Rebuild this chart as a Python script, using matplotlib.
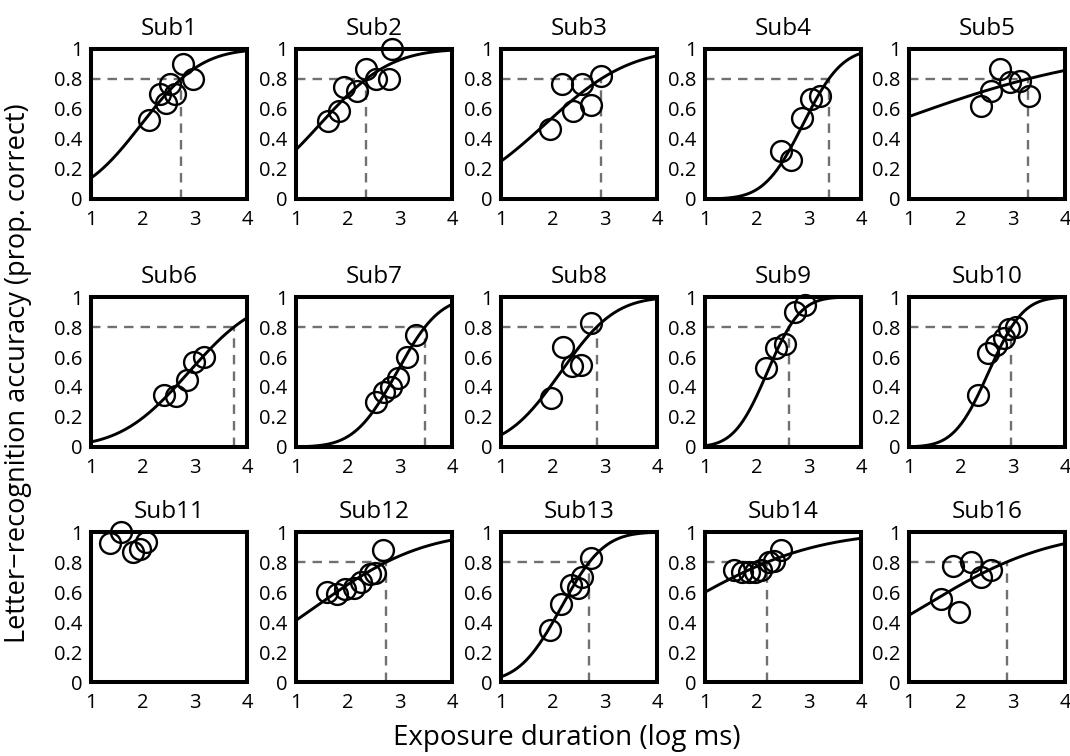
import math

import matplotlib

matplotlib.use("Agg")

import matplotlib.pyplot as plt  # noqa: E402
import numpy as np  # noqa: E402

plt.rcParams["font.family"] = ["Open Sans", "DejaVu Sans"]

W, H = 1070, 756
DPI = 100

# Per-subject data: exposure duration (log ms) and proportion correct.
names = ["Sub1", "Sub2", "Sub3", "Sub4", "Sub5",
         "Sub6", "Sub7", "Sub8", "Sub9", "Sub10",
         "Sub11", "Sub12", "Sub13", "Sub14", "Sub16"]

sub_x = [
    [2.11, 2.33, 2.45, 2.51, 2.62, 2.77, 2.96],
    [1.61, 1.82, 1.92, 2.17, 2.34, 2.53, 2.79, 2.85],
    [1.95, 2.18, 2.38, 2.55, 2.74, 2.93],
    [2.47, 2.66, 2.87, 3.04, 3.21],
    [2.39, 2.57, 2.75, 2.95, 3.13, 3.30],
    [2.41, 2.63, 2.85, 2.99, 3.17],
    [2.54, 2.69, 2.83, 2.96, 3.13, 3.31],
    [1.97, 2.19, 2.37, 2.54, 2.73],
    [2.18, 2.36, 2.53, 2.73, 2.92],
    [2.33, 2.52, 2.67, 2.82, 2.93, 3.05],
    [1.36, 1.58, 1.81, 1.94, 2.06],
    [1.59, 1.79, 1.95, 2.11, 2.25, 2.43, 2.51, 2.67],
    [1.95, 2.15, 2.34, 2.48, 2.55, 2.73],
    [1.56, 1.72, 1.85, 1.96, 2.07, 2.23, 2.33, 2.46],
    [1.61, 1.84, 1.96, 2.19, 2.38, 2.57],
]
sub_y = [
    [0.53, 0.70, 0.64, 0.77, 0.70, 0.90, 0.80],
    [0.52, 0.59, 0.75, 0.72, 0.87, 0.80, 0.80, 1.00],
    [0.47, 0.77, 0.59, 0.77, 0.63, 0.82],
    [0.32, 0.26, 0.54, 0.67, 0.69],
    [0.62, 0.72, 0.87, 0.78, 0.79, 0.69],
    [0.35, 0.34, 0.45, 0.57, 0.60],
    [0.30, 0.37, 0.40, 0.46, 0.60, 0.75],
    [0.33, 0.67, 0.54, 0.55, 0.83],
    [0.53, 0.66, 0.69, 0.90, 0.95],
    [0.35, 0.63, 0.68, 0.73, 0.79, 0.80],
    [0.93, 1.00, 0.87, 0.89, 0.935],
    [0.60, 0.59, 0.62, 0.63, 0.67, 0.72, 0.73, 0.88],
    [0.35, 0.52, 0.645, 0.63, 0.70, 0.83],
    [0.75, 0.735, 0.735, 0.735, 0.75, 0.80, 0.81, 0.88],
    [0.555, 0.775, 0.47, 0.80, 0.70, 0.75],
]

# Fitted psychometric function: 80%-correct threshold and spread (None = no fit).
thresholds = [2.73, 2.35, 2.92, 3.38, 3.28,
              3.75, 3.48, 2.84, 2.62, 2.97,
              None, 2.74, 2.70, 2.20, 2.88]
spreads = [0.90, 1.05, 1.27, 0.585, 3.18,
           1.03, 0.64, 0.82, 0.50, 0.52,
           None, 1.63, 0.64, 2.03, 1.92]

CRIT = 0.8
Z_CRIT = 0.8416  # normal quantile of 0.8

col_left = [91, 296, 501, 705, 909]
row_top = [49, 297, 532]
ax_w, ax_h = 156, 150


def norm_cdf(z):
    return np.array([0.5 * (1 + math.erf(v / math.sqrt(2))) for v in z])


fig = plt.figure(figsize=(W / DPI, H / DPI), dpi=DPI)

for i, name in enumerate(names):
    r, c = divmod(i, 5)
    left = col_left[c] / W
    bottom = (H - row_top[r] - ax_h) / H
    ax = fig.add_axes([left, bottom, ax_w / W, ax_h / H])

    thr, sd = thresholds[i], spreads[i]
    if thr is not None:
        ax.plot([1, thr], [CRIT, CRIT], color="#707070", lw=1.7, ls=(0, (4, 3)), zorder=1)
        ax.plot([thr, thr], [0, CRIT], color="#707070", lw=1.7, ls=(0, (4, 3)), zorder=1)
        mu = thr - Z_CRIT * sd
        xs = np.linspace(1, 4, 200)
        ax.plot(xs, norm_cdf((xs - mu) / sd), color="black", lw=2.1, zorder=2)

    ax.plot(sub_x[i], sub_y[i], "o", ms=15, mfc="none", mec="black", mew=1.7,
            clip_on=False, zorder=3)

    ax.set_xlim(1, 4)
    ax.set_ylim(0, 1)
    ax.set_xticks([1, 2, 3, 4])
    ax.set_xticklabels(["1", "2", "3", "4"])
    ax.set_yticks([0, 0.2, 0.4, 0.6, 0.8, 1])
    ax.set_yticklabels(["0", "0.2", "0.4", "0.6", "0.8", "1"])
    ax.tick_params(length=0, labelsize=14.5)
    ax.tick_params(axis="x", pad=8)
    ax.tick_params(axis="y", pad=6)
    for sp in ax.spines.values():
        sp.set_linewidth(2.9)
    ax.set_title(name, fontsize=17.5, pad=10)

fig.text(567 / W, 1 - 738 / H, "Exposure duration (log ms)", ha="center", va="center", fontsize=20)
fig.text(18 / W, 1 - 373 / H, "Letter\u2212recognition accuracy (prop. correct)",
         ha="center", va="center", rotation=90, fontsize=19.5)

fig.savefig("out.png", dpi=DPI)
